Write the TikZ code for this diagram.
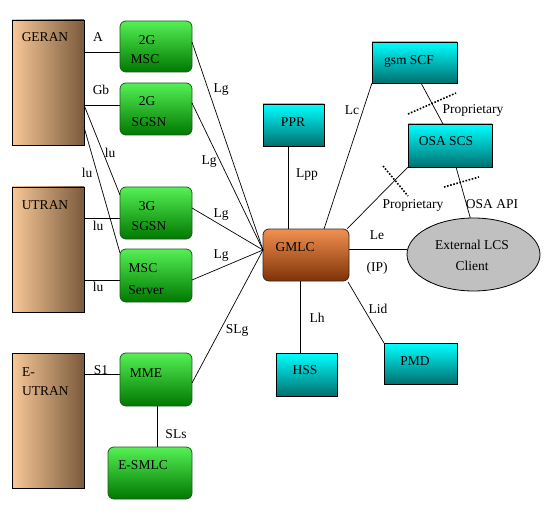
\documentclass[tikz,border=0pt]{standalone}
\usepackage{fontspec}
\setmainfont{Liberation Serif}
\usetikzlibrary{calc,shapes.geometric}
\definecolor{peach}{HTML}{F8C898}
\definecolor{brownish}{HTML}{7A5A3C}
\definecolor{lgreen}{HTML}{55F055}
\definecolor{mgreen}{HTML}{28C828}
\definecolor{dgreen}{HTML}{007800}
\definecolor{gborder}{HTML}{1E5A1E}
\definecolor{lcyan}{HTML}{00FFFF}
\definecolor{mcyan}{HTML}{00CCCC}
\definecolor{dcyan}{HTML}{007070}
\definecolor{lorange}{HTML}{F29050}
\definecolor{morange}{HTML}{D87030}
\definecolor{dorange}{HTML}{7E3208}
\definecolor{ogrey}{HTML}{C0C0C0}
\tikzset{
  txt/.style={font=\fontsize{13.5}{15}\selectfont, inner sep=0pt},
  ran/.style={draw=black, line width=0.8pt, inner sep=0pt, outer sep=0pt,
    left color=peach, middle color=peach, right color=brownish, minimum width=72pt},
  gbox/.style={draw=gborder, line width=0.8pt, rounded corners=6pt, inner sep=0pt, outer sep=0pt,
    top color=lgreen, middle color=mgreen, bottom color=dgreen},
  cbox/.style={draw=black, line width=0.8pt, inner sep=0pt, outer sep=0pt,
    top color=lcyan, middle color=mcyan, bottom color=dcyan},
  obox/.style={draw=black!70!brown, line width=0.8pt, rounded corners=6pt, inner sep=0pt, outer sep=0pt,
    top color=lorange, middle color=morange, bottom color=dorange},
  conn/.style={draw=black, line width=0.7pt},
  dotmark/.style={draw=black, line width=1.6pt, dash pattern=on 1.6pt off 1.6pt},
}
\begin{document}
\begin{tikzpicture}[x=1pt,y=-1pt]
\useasboundingbox[fill=white] (0,0) rectangle (553,521);

% RAN blocks
\node[ran, minimum height=125pt] (geran) at (48,82.5) {};
\node[ran, minimum height=125pt] (utran) at (48,249.5) {};
\node[ran, minimum height=135pt] (eutran) at (48,420.5) {};

% green boxes
\node[gbox, minimum width=72pt, minimum height=51pt] (msc2) at (156,46.5) {};
\node[gbox, minimum width=72pt, minimum height=52pt] (sgsn2) at (156,109) {};
\node[gbox, minimum width=72pt, minimum height=52pt] (sgsn3) at (156,213) {};
\node[gbox, minimum width=72pt, minimum height=53pt] (mscs) at (156,275.5) {};
\node[gbox, minimum width=72pt, minimum height=53pt] (mme) at (156,379.5) {};
\node[gbox, minimum width=84pt, minimum height=52pt] (esmlc) at (150,473) {};

% GMLC
\node[obox, minimum width=86pt, minimum height=52pt] (gmlc) at (306,255) {};

% cyan boxes
\node[cbox, minimum width=61pt, minimum height=42pt] (ppr) at (293.5,125) {};
\node[cbox, minimum width=85pt, minimum height=41pt] (gsmscf) at (414.5,62.5) {};
\node[cbox, minimum width=84pt, minimum height=43pt] (osascs) at (450,145.5) {};
\node[cbox, minimum width=61pt, minimum height=43pt] (hss) at (306.5,374.5) {};
\node[cbox, minimum width=73pt, minimum height=41pt] (pmd) at (420.5,363.5) {};

% external client
\node[ellipse, draw=black, line width=0.8pt, fill=ogrey, minimum width=133pt, minimum height=73pt, inner sep=0pt, outer sep=0pt] (ext) at (473.5,254.5) {};

% box texts
\node[txt] (tgeran) at (45,37) {GERAN};
\node[txt] (tutran) at (45,205) {UTRAN};
\node[txt, anchor=west] (te) at (22,372) {E-};
\node[txt, anchor=west] (teutran) at (22,391) {UTRAN};
\node[txt] (tmsc2a) at (147,40) {2G};
\node[txt] (tmsc2b) at (145,59) {MSC};
\node[txt] (tsgsn2a) at (147,101) {2G};
\node[txt] (tsgsn2b) at (149,122) {SGSN};
\node[txt] (tsgsn3a) at (147,206) {3G};
\node[txt] (tsgsn3b) at (149,226) {SGSN};
\node[txt] (tmscsa) at (143,268) {MSC};
\node[txt] (tmscsb) at (146,290) {Server};
\node[txt] (tmme) at (146,373) {MME};
\node[txt] (tesmlc) at (143,465) {E-SMLC};
\node[txt] (tgmlc) at (295,247) {GMLC};
\node[txt] (tppr) at (293,122) {PPR};
\node[txt] (tgsmscf) at (409,61) {gsm SCF};
\node[txt] (tosascs) at (446,141) {OSA SCS};
\node[txt] (text1) at (472,245) {External LCS};
\node[txt] (text2) at (472,266) {Client};
\node[txt] (thss) at (305,370) {HSS};
\node[txt] (tpmd) at (415,361) {PMD};

% connectors
\coordinate (gin) at ($(gmlc.north west)+(0,21)$);
\draw[conn] ($(geran.north east)+(0,32)$) -- ($(msc2.north west)+(0,31)$);
\draw[conn] ($(geran.north east)+(0,85)$) -- ($(sgsn2.north west)+(0,22)$);
\draw[conn] ($(geran.north east)+(0,85)$) -- ($(sgsn3.north west)+(0,8)$);
\draw[conn] ($(geran.north east)+(0,107)$) -- ($(mscs.north west)+(0,4)$);
\draw[conn] ($(utran.north east)+(0,31)$) -- ($(sgsn3.north west)+(0,31)$);
\draw[conn] ($(utran.north east)+(0,93)$) -- ($(mscs.north west)+(0,31)$);
\draw[conn] ($(eutran.north east)+(0,21)$) -- ($(mme.north west)+(0,21)$);
\coordinate (slsa) at ($(mme.south)+(1,0)$);
\draw[conn] (slsa) -- (slsa |- esmlc.north);
\draw[conn] ($(mme.north east)+(0,30)$) -- (gin);
\draw[conn] ($(msc2.north east)+(0,21)$) -- (gin);
\draw[conn] ($(sgsn2.north east)+(0,20)$) -- (gin);
\draw[conn] ($(sgsn3.north east)+(0,21)$) -- (gin);
\draw[conn] ($(mscs.north east)+(0,31)$) -- (gin);
\draw[conn] ($(ppr.south west)+(25,0)$) -- ($(gmlc.north west)+(25,0)$);
\draw[conn] (gsmscf.south west) -- ($(gmlc.north west)+(61,0)$);
\draw[conn] (osascs.south west) -- ($(gmlc.north east)+(-2,0)$);
\draw[conn] ($(gsmscf.south west)+(49,0)$) -- ($(osascs.north west)+(35,0)$);
\draw[conn] ($(osascs.south west)+(48,0)$) -- (ext.95);
\coordinate (gle) at ($(gmlc.north east)+(0,20)$);
\draw[conn] (gle) -- (gle -| ext.west);
\coordinate (glh) at ($(gmlc.south west)+(37,0)$);
\draw[conn] (glh) -- (glh |- hss.north);
\draw[conn] ($(gmlc.south east)+(-1,1)$) -- (pmd.north west);

% dotted boundary marks
\coordinate (d1a) at (383,166); \coordinate (d1b) at (408,196);
\coordinate (d2a) at (408,114); \coordinate (d2b) at (456,93);
\coordinate (d3a) at (444,187); \coordinate (d3b) at (479,177);
\draw[dotmark] (d1a) -- (d1b);
\draw[dotmark] (d2a) -- (d2b);
\draw[dotmark] (d3a) -- (d3b);

% connector labels
\node[txt] (lA) at (98,37) {A};
\node[txt] (lGb) at (101,90) {Gb};
\node[txt] (lIu1) at (110,153) {lu};
\node[txt] (lIu2) at (87,173) {lu};
\node[txt] (lIu3) at (98,226) {lu};
\node[txt] (lIu4) at (98,287) {lu};
\node[txt] (lS1) at (101,370) {S1};
\node[txt] (lSLs) at (176,434) {SLs};
\node[txt] (lSLg) at (237,330) {SLg};
\node[txt] (lLg1) at (221,90) {Lg};
\node[txt] (lLg2) at (209,162) {Lg};
\node[txt] (lLg3) at (221,215) {Lg};
\node[txt] (lLg4) at (221,256) {Lg};
\node[txt] (lLpp) at (307,175) {Lpp};
\node[txt] (lLc) at (352,110) {Lc};
\node[txt] (lProp1) at (413,205) {Proprietary};
\node[txt] (lProp2) at (473,110) {Proprietary};
\node[txt] (lOSA) at (492,204) {OSA API};
\node[txt] (lLe) at (377,235) {Le};
\node[txt] (lIP) at (377,268) {(IP)};
\node[txt] (lLh) at (317,318) {Lh};
\node[txt] (lLid) at (378,309) {Lid};
\end{tikzpicture}
\end{document}
